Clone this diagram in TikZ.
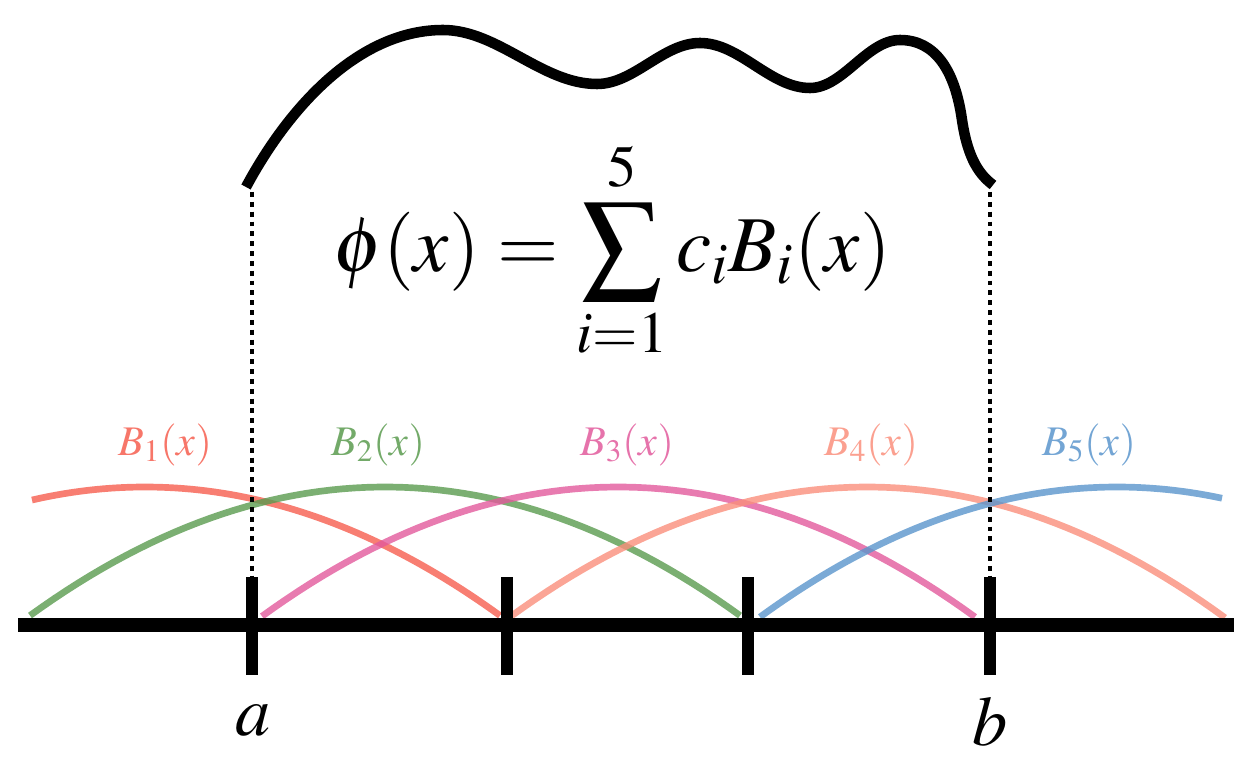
\documentclass[tikz,border=0pt]{standalone}
\usepackage{amsmath}
\usepackage{mathptmx}
\definecolor{basisred}{HTML}{F65E4F}
\definecolor{basisgreen}{HTML}{5A9B4F}
\definecolor{basispink}{HTML}{E25A9C}
\definecolor{basissalmon}{HTML}{FA8F7C}
\definecolor{basisblue}{HTML}{5A95CC}

\begin{document}
\begin{tikzpicture}[x=0.02cm, y=-0.02cm,
                    every node/.style={inner sep=0pt, outer sep=0pt},
                    basis/.style={line width=3.8pt, opacity=0.8},
                    guide/.style={line width=2.2pt, dash pattern=on 2.8pt off 2.8pt},
                    tickmark/.style={line width=6.8pt}]

  \useasboundingbox (0,0) rectangle (1234,770);

  %% ---- 基底函數 B_1 ... B_5 (二次曲線, 底線 y=617) ----
  \foreach \i/\c/\lo/\hi/\col in {1/145/32/500/basisred, 2/385/30/740/basisgreen,
                                   3/618/262/975/basispink, 4/867/510/1225/basissalmon,
                                   5/1117/760/1222/basisblue}
    \draw[basis, \col] plot[domain=\lo:\hi, samples=60]
      (\x, {617-130*(1-((\x-\c)/357)^2)});

  %% 曲線的標示
  \begin{scope}[every node/.style={anchor=base, font=\fontsize{24}{28}\selectfont}]
    \node[basisred!85]    (lblB1) at (165,455) {$B_1(x)$};
    \node[basisgreen!85]  (lblB2) at (378,455) {$B_2(x)$};
    \node[basispink!85]   (lblB3) at (627,455) {$B_3(x)$};
    \node[basissalmon!85] (lblB4) at (871,455) {$B_4(x)$};
    \node[basisblue!85]   (lblB5) at (1089,455) {$B_5(x)$};
  \end{scope}

  %% ---- 座標軸與節點 ----
  \coordinate (tickAtop) at (252,577);
  \coordinate (tickDtop) at (990,577);
  \draw[line width=8pt] (18,625) -- (1234,625);
  \foreach \xx in {252, 507, 748, 990}
    \draw[tickmark] (\xx,577) -- (\xx,675);

  \node[anchor=base, font=\fontsize{40}{44}\selectfont] (lblA) at (253,735) {$a$};
  \node[anchor=base, font=\fontsize{40}{44}\selectfont] (lblB) at (990,745) {$b$};

  %% ---- 上方的 phi(x) 曲線 ----
  \coordinate (endA) at (252,192);
  \coordinate (endB) at (990,192);
  \draw[line width=6pt]
    (246,187) .. controls (290,105) and (360,30) .. (443,30)
              .. controls (498,30) and (542,84) .. (597,84)
              .. controls (634,84) and (663,43) .. (700,43)
              .. controls (740,43) and (770,88) .. (810,88)
              .. controls (843,88) and (867,40) .. (900,40)
              .. controls (935,40) and (955,70) .. (962,120)
              .. controls (968,160) and (980,175) .. (993,185);

  %% 由曲線端點垂下的虛線
  \draw[guide] (endA) -- (tickAtop);
  \draw[guide] (endB) -- (tickDtop);

  %% 公式
  \node[font=\fontsize{45}{50}\selectfont] (phi) at (612,250)
    {$\displaystyle \phi(x) = \sum_{i=1}^{5} c_i B_i(x)$};

\end{tikzpicture}
\end{document}
